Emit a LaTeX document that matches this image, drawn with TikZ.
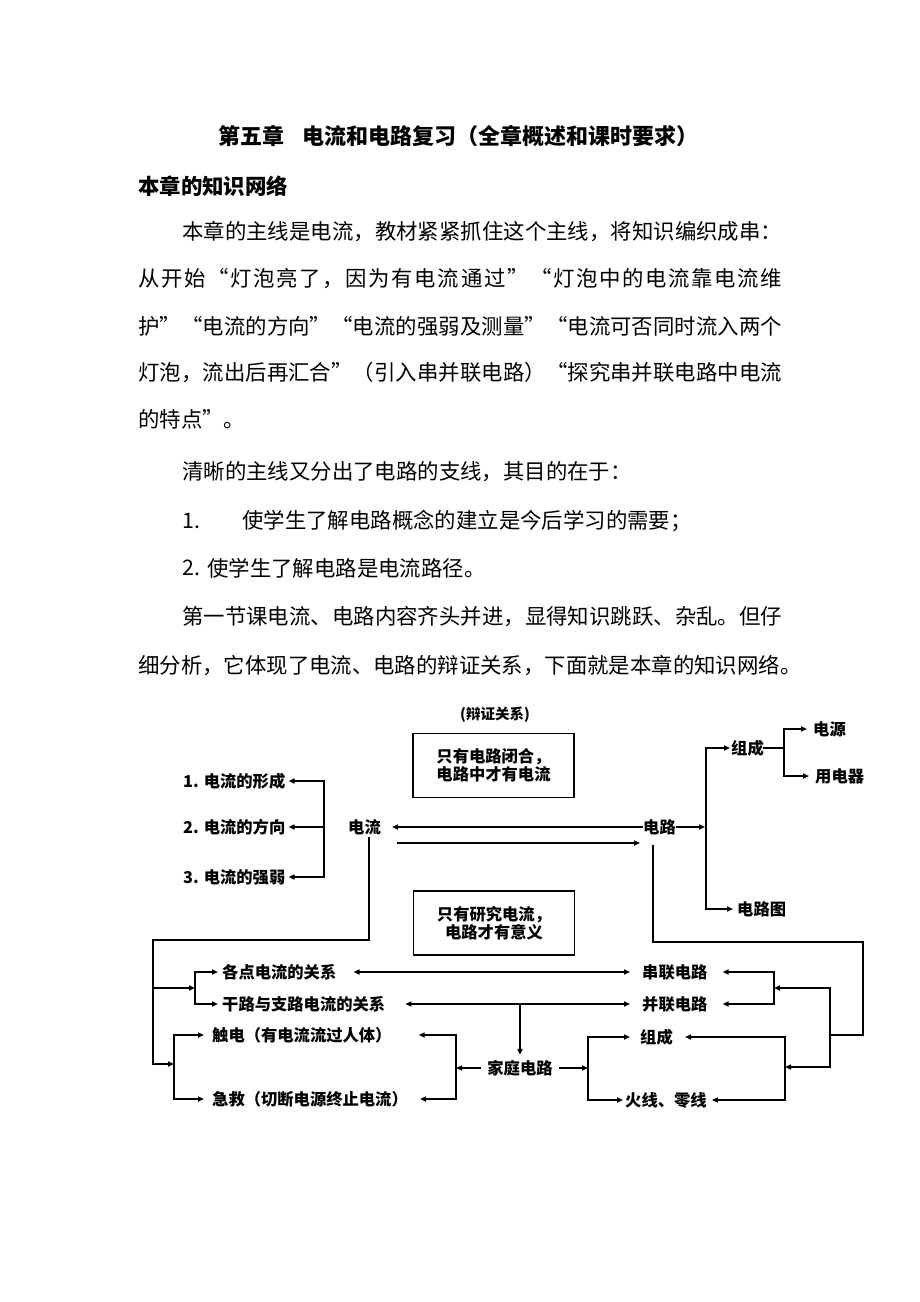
\documentclass[tikz,border=0pt]{standalone}
\usepackage{fontspec}
\setmainfont{Noto Sans CJK SC}
\usetikzlibrary{arrows.meta}
\makeatletter
\def\spreadline#1#2{\hbox to #1pt{\spr@a#2\relax}}
\def\spr@a#1{#1\spr@b}
\def\spr@b#1{\ifx\relax#1\else\hfil#1\expandafter\spr@b\fi}
\makeatother
\tikzset{
  body/.style={anchor=west, inner sep=0pt, font=\fontsize{21.4}{26}\selectfont},
  bodyb/.style={anchor=west, inner sep=0pt, font=\fontsize{21.4}{26}\selectfont\bfseries},
  titlestyle/.style={anchor=west, inner sep=0pt, font=\fontsize{22}{26}\selectfont\bfseries},
  lab/.style={anchor=west, inner sep=0pt, font=\fontsize{16.3}{19}\selectfont\bfseries},
  conn/.style={line width=1.5pt, line cap=rect},
  arr/.style={line width=1.5pt, -{Triangle[length=6pt,width=5pt]}},
  darr/.style={line width=1.5pt, {Triangle[length=6pt,width=5pt]}-{Triangle[length=6pt,width=5pt]}},
  notebox/.style={draw, line width=1.5pt, minimum width=161pt, minimum height=64pt, align=center,
    inner sep=0pt, font=\fontsize{16.3}{18.5}\selectfont\bfseries}
}
\begin{document}
\begin{tikzpicture}[x=1pt,y=-1pt]
\useasboundingbox[fill=white] (0,0) rectangle (920,1302);
% ---------- text ----------
\node[titlestyle] (title) at (218,136) {第五章\hspace{18pt}电流和电路复习（全章概述和课时要求）};
\node[bodyb] (head) at (138,186) {本章的知识网络};
\node[body] (p1) at (182,232) {\spreadline{600}{本章的主线是电流，教材紧紧抓住这个主线，将知识编织成串：}};
\node[body] (p2) at (138,279) {\spreadline{644}{从开始“灯泡亮了，因为有电流通过”“灯泡中的电流靠电流维}};
\node[body] (p3) at (138,326) {\spreadline{644}{护”“电流的方向”“电流的强弱及测量”“电流可否同时流入两个}};
\node[body] (p4) at (138,372) {\spreadline{644}{灯泡，流出后再汇合”（引入串并联电路）“探究串并联电路中电流}};
\node[body] (p5) at (138,419) {的特点”。};
\node[body] (p6) at (182,472) {清晰的主线又分出了电路的支线，其目的在于：};
\node[body] (p7a) at (182,521) {1.};
\node[body] (p7) at (242,521) {使学生了解电路概念的建立是今后学习的需要；};
\node[body] (p8a) at (182,568) {2.};
\node[body] (p8) at (207,568) {使学生了解电路是电流路径。};
\node[body] (p9) at (182,617) {\spreadline{600}{第一节课电流、电路内容齐头并进，显得知识跳跃、杂乱。但仔}};
\node[body] (p10) at (138,665) {\spreadline{644}{细分析，它体现了电流、电路的辩证关系，下面就是本章的知识网络。}};
% ---------- diagram nodes ----------
\node[inner sep=0pt, font=\fontsize{14.5}{16}\selectfont\bfseries] (bz) at (495,715) {(辩证关系)};
\node[notebox] (box1) at (493.5,765.5) {只有电路闭合，\\电路中才有电流};
\node[notebox] (box2) at (494,923) {只有研究电流，\\电路才有意义};
\node[lab] (dl) at (348,827) {电流};
\node[lab] (dlu) at (643,827) {电路};
\node[lab] (zc1) at (731,748) {组成};
\node[lab] (dy) at (813,729) {电源};
\node[lab] (yq) at (815,776) {用电器};
\node[lab] (dlt) at (737,909) {电路图};
\node[lab] (i1) at (183,781) {1. 电流的形成};
\node[lab] (i2) at (183,827) {2. 电流的方向};
\node[lab] (i3) at (183,877) {3. 电流的强弱};
\node[lab] (gd) at (222,972) {各点电流的关系};
\node[lab] (gl) at (222,1004) {干路与支路电流的关系};
\node[lab] (cd) at (212,1035) {触电（有电流流过人体）};
\node[lab] (jj) at (212,1099) {急救（切断电源终止电流）};
\node[lab] (cl) at (642,972) {串联电路};
\node[lab] (bl) at (642,1004) {并联电路};
\node[lab, anchor=center] (jt) at (520,1068) {家庭电路};
\node[lab] (zc2) at (640,1037) {组成};
\node[lab] (hx) at (625,1100) {火线、零线};
% ---------- junction coordinates ----------
\coordinate (a1) at (397,843);
\coordinate (a2) at (640,843);
\coordinate (f1) at (706,827);
\coordinate (f2) at (784,748);
\coordinate (v1) at (324,827);
\coordinate (d1) at (369,838);
\coordinate (d2) at (153,1064);
\coordinate (d3) at (153,988);
\coordinate (g1) at (195,988);
\coordinate (h1) at (174,1064);
\coordinate (k1) at (520,1004);
\coordinate (k2) at (456,1068);
\coordinate (k3) at (588,1068);
\coordinate (r1) at (653,846);
\coordinate (r2) at (830,1035);
\coordinate (r3) at (774,988);
\coordinate (r4) at (785,1067);
% ---------- connectors ----------
\draw[arr, shorten >=11pt] (dlu.west) -- (dlu.west -| dl.east);
\draw[arr] (a1) -- (a2);
\draw[arr, shorten >=1pt] (dlu.east) -- (f1);
\draw[conn] (zc1.west -| f1) -- (dlt.west -| f1);
\draw[arr, shorten >=1pt] (zc1.west -| f1) -- (zc1.west);
\draw[arr, shorten >=4pt] (dlt.west -| f1) -- (dlt.west);
\draw[conn] (zc1.east) -- (f2);
\draw[conn] (dy.west -| f2) -- (yq.west -| f2);
\draw[arr, shorten >=6pt] (dy.west -| f2) -- (dy.west);
\draw[arr, shorten >=6pt] (yq.west -| f2) -- (yq.west);
% left cluster
\draw[conn] (i1.east -| v1) -- (i3.east -| v1);
\draw[arr, shorten >=3pt] (i1.east -| v1) -- (i1.east);
\draw[arr, shorten >=3pt] (v1) -- (i2.east);
\draw[arr, shorten >=3pt] (i3.east -| v1) -- (i3.east);
\draw[conn] (d1) -- (369,940) -- (153,940) -- (d2);
\draw[arr] (d2) -- (h1);
\draw[arr] (d3) -- (g1);
\draw[conn] (gd.west -| g1) -- (gl.west -| g1);
\draw[arr, shorten >=4pt] (gd.west -| g1) -- (gd.west);
\draw[arr, shorten >=4pt] (gl.west -| g1) -- (gl.west);
\draw[conn] (cd.west -| h1) -- (jj.west -| h1);
\draw[arr, shorten >=8pt] (cd.west -| h1) -- (cd.west);
\draw[arr, shorten >=8pt] (jj.west -| h1) -- (jj.west);
% middle
\draw[darr, shorten <=17pt, shorten >=12pt] (gd.east) -- (cl.west);
\draw[darr, shorten <=20pt, shorten >=12pt] (gl.east) -- (bl.west);
\draw[arr, shorten >=5pt] (k1) -- (jt.north);
\draw[arr, shorten <=6pt] (jt.west) -- (k2);
\draw[conn] (cd.east -| k2) -- (jj.east -| k2);
\draw[arr, shorten >=27pt] (cd.east -| k2) -- (cd.east);
\draw[arr, shorten >=12pt] (jj.east -| k2) -- (jj.east);
\draw[arr, shorten <=6pt] (jt.east) -- (k3);
\draw[conn] (zc2.west -| k3) -- (hx.west -| k3);
\draw[arr, shorten >=10pt] (zc2.west -| k3) -- (zc2.west);
\draw[arr, shorten >=2pt] (hx.west -| k3) -- (hx.west);
% right cluster
\draw[conn] (r1) -- (653,942) -- (863,942) -- (863,1035) -- (r2);
\draw[conn] (830,988) -- (830,1067);
\draw[arr] (830,988) -- (r3);
\draw[conn] (cl.east -| r3) -- (bl.east -| r3);
\draw[arr, shorten >=15pt] (cl.east -| r3) -- (cl.east);
\draw[arr, shorten >=15pt] (bl.east -| r3) -- (bl.east);
\draw[arr] (830,1067) -- (r4);
\draw[conn] (zc2.east -| r4) -- (hx.east -| r4);
\draw[arr, shorten >=12pt] (zc2.east -| r4) -- (zc2.east);
\draw[arr, shorten >=5pt] (hx.east -| r4) -- (hx.east);
\end{tikzpicture}
\end{document}
